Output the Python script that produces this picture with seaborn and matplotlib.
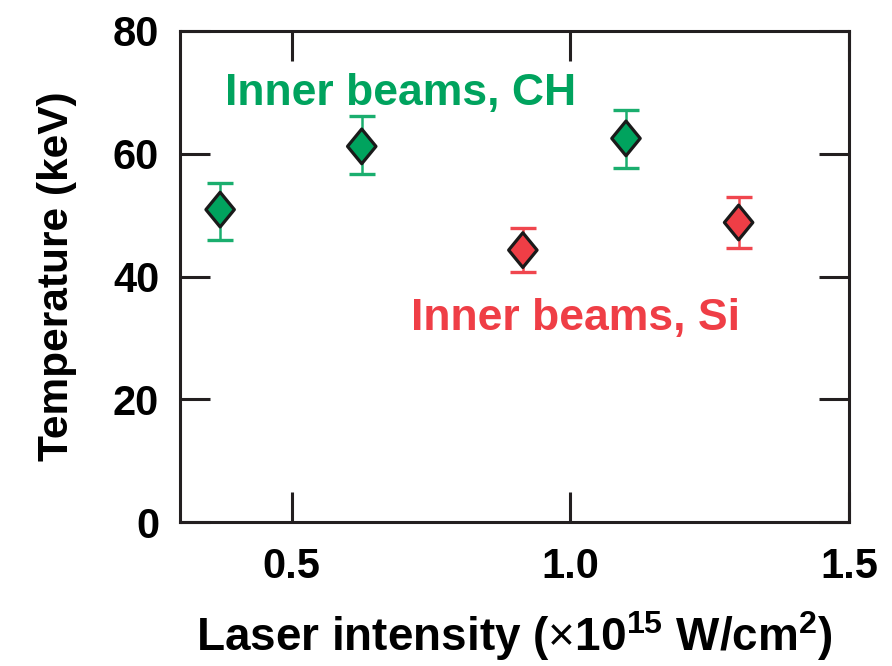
import numpy as np
import pandas as pd
import matplotlib
matplotlib.use("Agg")
import matplotlib.pyplot as plt
import seaborn as sns
from matplotlib.path import Path

# ---- data ----
ch_x = [0.372, 0.626, 1.100]
ch_y = [50.9, 61.2, 62.5]
ch_lo = [45.9, 56.7, 57.7]
ch_hi = [55.3, 66.1, 67.1]

si_x = [0.915, 1.302]
si_y = [44.3, 48.8]
si_lo = [40.7, 44.7]
si_hi = [47.9, 52.9]

x_ticks = [0.5, 1.0, 1.5]
x_ticklabels = ["0.5", "1.0", "1.5"]
y_ticks = [0, 20, 40, 60, 80]
y_ticklabels = ["0", "20", "40", "60", "80"]

green = "#00a35e"
green_err = "#1aae6e"
red = "#ef3e46"
red_err = "#f0464e"

sns.set_theme(style="ticks")
plt.rcParams["font.family"] = ["Liberation Sans", "DejaVu Sans"]
plt.rcParams["text.color"] = "black"
plt.rcParams["axes.labelcolor"] = "black"
plt.rcParams["mathtext.fontset"] = "custom"
plt.rcParams["mathtext.rm"] = "Liberation Sans"
plt.rcParams["mathtext.bf"] = "Liberation Sans:bold"

fig = plt.figure(figsize=(8.92, 6.66), dpi=100)
ax = fig.add_axes([180 / 892, 1 - 522 / 666, (849 - 180) / 892, (522 - 31) / 666])

df = pd.DataFrame({
    "x": ch_x + si_x,
    "y": ch_y + si_y,
    "grp": ["CH"] * len(ch_x) + ["Si"] * len(si_x),
})

# error bars
for xs, ys, lo, hi, c in [(ch_x, ch_y, ch_lo, ch_hi, green_err), (si_x, si_y, si_lo, si_hi, red_err)]:
    ys = np.array(ys)
    yerr = np.vstack([ys - np.array(lo), np.array(hi) - ys])
    ax.errorbar(xs, ys, yerr=yerr, fmt="none", ecolor=c, elinewidth=1.8,
                capsize=9.5, capthick=2.4, zorder=2)

diamond = Path([(0, 1), (0.82, 0), (0, -1), (-0.82, 0), (0, 1)],
               [Path.MOVETO, Path.LINETO, Path.LINETO, Path.LINETO, Path.CLOSEPOLY])
sns.scatterplot(data=df, x="x", y="y", hue="grp", palette={"CH": green, "Si": red},
                marker=diamond, s=25 ** 2, edgecolor="#1a1a1a", linewidth=2.3,
                legend=False, ax=ax, zorder=3)

ax.set_xlim(0.3, 1.5)
ax.set_ylim(0, 80)
ax.set_xticks(x_ticks)
ax.set_xticklabels(x_ticklabels)
ax.set_yticks(y_ticks)
ax.set_yticklabels(y_ticklabels)

for sp in ax.spines.values():
    sp.set_visible(True)
    sp.set_linewidth(2.2)
    sp.set_color("#231f20")

ax.tick_params(axis="both", direction="in", length=21.5, width=2.2, color="#231f20",
               top=True, right=True, labelsize=30, labelcolor="black")
ax.tick_params(axis="x", pad=18)
ax.tick_params(axis="y", pad=15)
for lab in ax.get_xticklabels() + ax.get_yticklabels():
    lab.set_fontweight("bold")

ax.set_xlabel(r"Laser intensity ($\times$10$^{\mathbf{15}}$ W/cm$^{\mathbf{2}}$)",
              fontsize=33, fontweight="bold", labelpad=16, color="black")
ax.set_ylabel("Temperature (keV)", fontsize=30.5, fontweight="bold", labelpad=26,
              color="black")

ax.text(0.381, 69.8, "Inner beams, CH", color=green, fontsize=32, fontweight="bold",
        ha="left", va="center")
ax.text(0.714, 33.2, "Inner beams, Si", color=red, fontsize=32, fontweight="bold",
        ha="left", va="center")

fig.savefig("out.png", dpi=100)
